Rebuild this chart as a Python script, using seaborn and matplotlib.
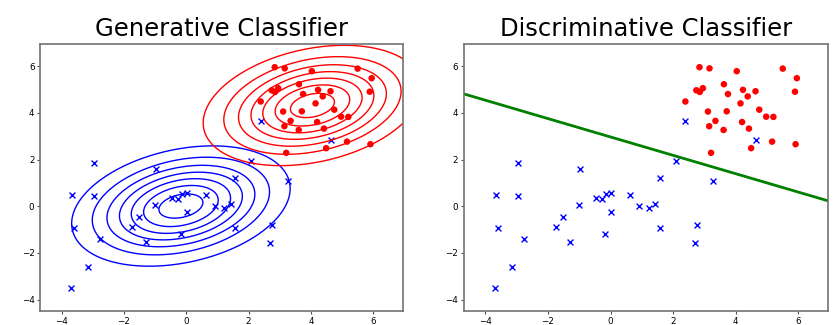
import numpy as np
import pandas as pd
import matplotlib.pyplot as plt
import seaborn as sns

sns.set_style("white")
plt.rcParams["text.color"] = "black"
plt.rcParams["xtick.color"] = "black"
plt.rcParams["ytick.color"] = "black"

# class 1 (red dots)
red_x = [2.84, 3.16, 4.03, 5.50, 5.95, 5.89, 2.74, 2.85, 2.95, 3.62, 3.75, 4.23, 4.63, 4.38, 2.39,
         4.15, 3.11, 3.71, 4.75, 4.97, 5.20, 3.35, 3.15, 3.61, 4.20, 4.42, 5.16, 5.91, 4.49, 3.21]
red_y = [5.96, 5.91, 5.79, 5.90, 5.49, 4.91, 4.97, 4.90, 5.06, 5.23, 4.81, 4.99, 4.93, 4.71, 4.49,
         4.41, 4.06, 4.07, 4.14, 3.84, 3.83, 3.66, 3.43, 3.27, 3.61, 3.33, 2.77, 2.66, 2.49, 2.29]

# class 0 (blue crosses)
blue_x = [2.39, 4.66, 2.08, 3.26, 1.57, -2.96, -0.96, -3.66, -2.95, -1.00, -0.47, -0.26, -0.13, 0.02, 0.62,
          0.02, 0.92, 1.22, 1.43, -1.52, -1.75, -3.60, -2.78, -1.29, -0.18, 1.58, 2.75, 2.70, -3.14, -3.69]
blue_y = [3.66, 2.83, 1.93, 1.07, 1.19, 1.84, 1.60, 0.50, 0.43, 0.06, 0.34, 0.33, 0.54, 0.57, 0.49,
          -0.23, -0.01, -0.09, 0.10, -0.44, -0.91, -0.93, -1.41, -1.53, -1.21, -0.94, -0.79, -1.56, -2.61, -3.49]

# fitted gaussians (shared covariance), as they look in the picture
blue_mean = [-0.17, 0.01]
red_mean = [4.05, 4.32]
sigma_x, sigma_y, corr = 1.74, 1.28, 0.29
level_fracs = [1 / 7.6, 2 / 7.6, 3 / 7.6, 4 / 7.6, 5 / 7.6, 6 / 7.6, 7 / 7.6]

# linear decision boundary y = b + m*x
boundary_b = 2.97
boundary_m = -0.394

red = pd.DataFrame({"x": red_x, "y": red_y})
blue = pd.DataFrame({"x": blue_x, "y": blue_y})

allx = np.r_[red_x, blue_x]
ally = np.r_[red_y, blue_y]
xlim = (allx.min() - 1, allx.max() + 1)
ylim = (ally.min() - 1, ally.max() + 1)

cov = np.array([[sigma_x ** 2, corr * sigma_x * sigma_y],
                [corr * sigma_x * sigma_y, sigma_y ** 2]])
inv = np.linalg.inv(cov)
peak = 1 / (2 * np.pi * np.sqrt(np.linalg.det(cov)))


def gauss_pdf(mu, xx, yy):
    dx = xx - mu[0]
    dy = yy - mu[1]
    d2 = inv[0, 0] * dx * dx + 2 * inv[0, 1] * dx * dy + inv[1, 1] * dy * dy
    return peak * np.exp(-0.5 * d2)


fig = plt.figure(figsize=(8.34, 3.25), dpi=100)
ax1 = fig.add_axes([0.048, 0.043, 0.435, 0.822])
ax2 = fig.add_axes([0.556, 0.043, 0.437, 0.822])

xx, yy = np.meshgrid(np.linspace(xlim[0] - 1, xlim[1] + 1, 400), np.linspace(ylim[0] - 1, ylim[1] + 1, 400))
levels = [peak * f for f in level_fracs]

# generative: one gaussian per class
sns.scatterplot(data=blue, x="x", y="y", marker="x", color="blue", s=18, linewidth=1, ax=ax1)
sns.scatterplot(data=red, x="x", y="y", marker="o", color="red", s=22, edgecolor="none", ax=ax1)
ax1.contour(xx, yy, gauss_pdf(blue_mean, xx, yy), levels=levels, colors="blue", linewidths=1)
ax1.contour(xx, yy, gauss_pdf(red_mean, xx, yy), levels=levels, colors="red", linewidths=1)
ax1.set_title("Generative Classifier", fontsize=17.5)

# discriminative: just the boundary
sns.scatterplot(data=blue, x="x", y="y", marker="x", color="blue", s=18, linewidth=1, ax=ax2)
sns.scatterplot(data=red, x="x", y="y", marker="o", color="red", s=22, edgecolor="none", ax=ax2)
ax2.axline((0, boundary_b), slope=boundary_m, color="green", linewidth=2)
ax2.set_title("Discriminative Classifier", fontsize=17.5)

for ax in (ax1, ax2):
    ax.set_xlim(xlim)
    ax.set_ylim(ylim)
    ax.set_xlabel("")
    ax.set_ylabel("")
    ax.tick_params(labelsize=6.3, length=2.5, width=0.8, pad=1.5, left=True, bottom=True, color="0.3")
    for sp in ax.spines.values():
        sp.set_color("0.45")
        sp.set_linewidth(1.2)

fig.savefig("out.png", dpi=100)
